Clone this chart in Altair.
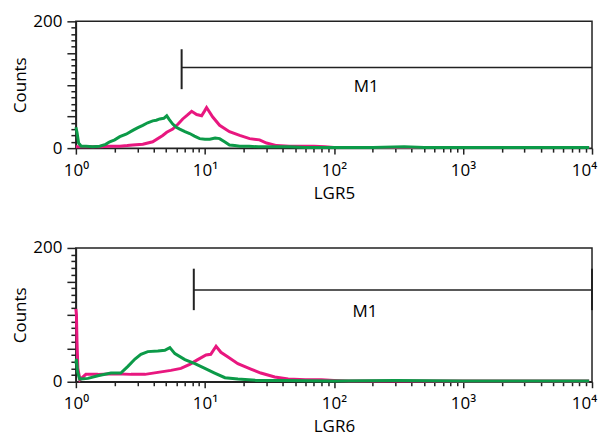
import altair as alt
import pandas as pd

# ---------------- data ----------------
p1_green_x = [1.00, 1.02, 1.05, 1.10, 1.2, 1.35, 1.53, 1.7, 1.83, 2.0, 2.19, 2.45, 2.76, 3.0, 3.3, 3.6,
              3.94, 4.2, 4.47, 4.8, 5.06, 5.3, 5.63, 6.0, 6.38, 7.0, 7.62, 8.3, 9.1, 10.0, 10.9, 12.0,
              13.0, 14.2, 15.5, 17, 18.6, 22, 26, 30, 36, 45, 60, 100, 200, 350, 500, 1000, 2000, 5000, 9500]
p1_green_y = [33, 25, 8, 3, 3, 2, 3, 6, 10, 13, 18, 22, 28, 32, 36, 40,
              43, 44, 46, 47, 51, 45, 38, 33, 30, 26, 23, 19, 15, 14, 14, 16,
              15, 10, 5, 4, 3, 3, 2, 2, 2, 2, 1, 1, 1, 2, 1, 1, 1, 1, 1]

p1_mag_x = [1.0, 1.53, 1.83, 2.19, 2.5, 2.76, 3.3, 3.94, 4.71, 5.06, 5.63, 6.2, 6.73, 7.3, 7.89, 8.63,
            9.43, 9.9, 10.3, 11.5, 13.0, 15.5, 18.6, 22.2, 26.5, 30, 36, 45, 55, 70, 85, 100, 200,
            500, 1000, 2000, 5000, 9500]
p1_mag_y = [2, 2, 3, 3, 4, 5, 6, 10, 20, 25, 30, 38, 46, 52, 58, 53,
            51, 58, 64, 49, 36, 26, 20, 15, 13, 8, 4, 3, 3, 3, 2, 1, 1,
            1, 1, 1, 1, 1]

p2_green_x = [1.0, 1.01, 1.03, 1.07, 1.24, 1.48, 1.87, 2.23, 2.53, 2.87, 3.19, 3.61, 4.32, 4.89, 5.35,
              5.85, 6.99, 8.36, 9.99, 11.9, 14.3, 18.0, 25, 40, 100, 300, 1000, 3000, 9500]
p2_green_y = [27, 34, 15, 4, 5, 9, 13, 13, 23, 34, 41, 45, 46, 47, 51,
              42, 33, 27, 20, 13, 6, 4, 2, 2, 1, 2, 1, 1, 1]

p2_mag_x = [1.0, 1.01, 1.02, 1.036, 1.074, 1.195, 1.48, 2.01, 2.67, 3.43, 4.32, 5.45, 6.52, 7.62, 8.80,
            10.2, 11.1, 12.2, 13.3, 15.1, 18.0, 22.7, 27.1, 34.8, 44.2, 60, 80, 100, 130, 300, 1000,
            3000, 9500]
p2_mag_y = [109, 100, 60, 20, 3, 11, 11, 12, 11, 11, 14, 17, 20, 26, 33,
            40, 41, 53, 44, 37, 27, 19, 13, 7, 4, 3, 3, 2, 1, 1, 1,
            1, 1]

x_ticks = [m * 10 ** k for k in range(4) for m in range(1, 10)] + [10000]
decade_labels = {1: "10⁰", 10: "10¹", 100: "10²", 1000: "10³", 10000: "10⁴"}
y_ticks = list(range(0, 201, 10))

GREEN = "#0c9a48"
MAGENTA = "#e8177f"
INK = "#222222"
FONT = "Open Sans"
FS = 17

label_expr = " : ".join(
    [f"datum.value == {v} ? '{t}'" for v, t in decade_labels.items()]) + " : ''"


def panel(gx, gy, mx, my, gate, m1, title, height):
    lines = pd.DataFrame(
        {"x": mx + gx, "y": my + gy,
         "s": ["mag"] * len(mx) + ["green"] * len(gx),
         "o": list(range(len(mx))) + list(range(len(gx)))})
    xs = alt.Scale(type="log", domain=[1, 10000], nice=False)
    ys = alt.Scale(domain=[0, 200], nice=False)
    xax = alt.Axis(values=x_ticks, labelExpr=label_expr, grid=False,
                   tickSize={"condition": {"test": "indexof([1,10,100,1000,10000], datum.value) >= 0",
                                           "value": 6}, "value": 4},
                   labelOffset={"condition": {"test": "datum.value == 10000", "value": -8}, "value": 0},
                   labelPadding=8, titlePadding=7, labelFlush=False, labelOverlap=False)
    yax = alt.Axis(values=y_ticks, grid=False,
                   labelExpr="datum.value == 0 || datum.value == 200 ? datum.label : ''",
                   tickSize={"condition": {"test": "datum.value % 50 === 0", "value": 9}, "value": 5},
                   labelPadding=5, titlePadding=3, labelOverlap=False, labelFlush=False)

    def X(f="x:Q"):
        return alt.X(f, scale=xs, axis=xax, title=title)

    def Y(f="y:Q"):
        return alt.Y(f, scale=ys, axis=yax, title="Counts")

    base = alt.Chart(lines).mark_line(strokeWidth=3, interpolate="linear").encode(
        x=X(), y=Y(),
        color=alt.Color("s:N", scale=alt.Scale(domain=["mag", "green"], range=[MAGENTA, GREEN]),
                        legend=None),
        order="o:Q",
        detail="s:N",
    )
    hx1, hx2, hy, vy1, vy2, right_bar = gate
    hline = alt.Chart(pd.DataFrame({"x": [hx1], "x2": [hx2], "y": [hy]})).mark_rule(
        color=INK, strokeWidth=1.5).encode(x=X(), x2="x2:Q", y=Y())
    vx = [hx1] + ([hx2] if right_bar else [])
    vline = alt.Chart(pd.DataFrame({"x": vx, "y": [vy1] * len(vx), "y2": [vy2] * len(vx)})).mark_rule(
        color=INK, strokeWidth=2).encode(x=X(), y=Y(), y2="y2:Q")
    text = alt.Chart(pd.DataFrame({"x": [m1[0]], "y": [m1[1]], "t": ["M1"]})).mark_text(
        font=FONT, fontSize=FS, color="black", baseline="middle", align="center").encode(
        x=X(), y=Y(), text="t:N")
    return alt.layer(base, hline, vline, text).properties(width=517, height=height)


top = panel(p1_green_x, p1_green_y, p1_mag_x, p1_mag_y,
            (6.6, 10000, 127, 93, 156, False), (178, 97), "LGR5", 127)
bottom = panel(p2_green_x, p2_green_y, p2_mag_x, p2_mag_y,
               (8.2, 10000, 137, 107, 169, True), (174, 104), "LGR6", 134)

chart = alt.vconcat(top, bottom, spacing=36).properties(
    padding={"left": 3, "top": 3, "right": 0, "bottom": 0},
    background="white",
).configure_view(stroke=INK, strokeWidth=1.5).configure_axis(
    labelFont=FONT, titleFont=FONT, labelFontSize=FS, titleFontSize=FS,
    titleFontWeight="normal", labelColor="black", titleColor="black",
    domainColor=INK, tickColor=INK, domainWidth=1.5, tickWidth=1.5,
)

chart.save("out.html", embed_options={"renderer": "svg", "actions": False})
